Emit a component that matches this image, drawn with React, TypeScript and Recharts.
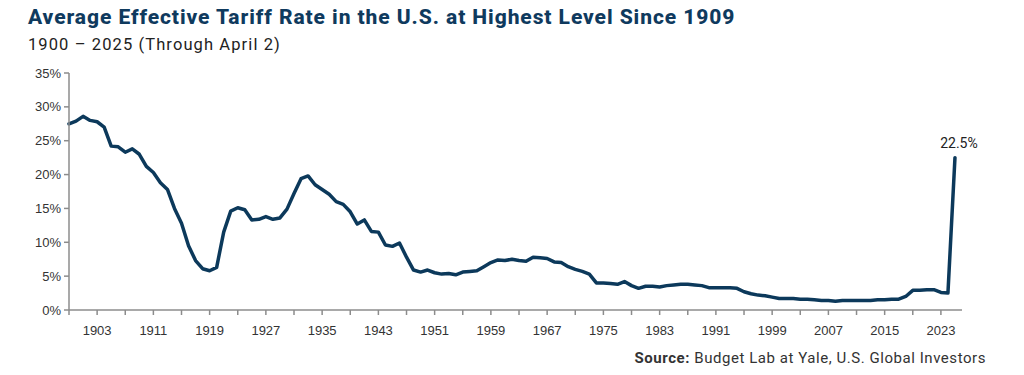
import { LineChart, Line, XAxis, YAxis, LabelList } from "recharts"

// annual average effective tariff rate (%), first year 1899
const START_YEAR = 1899
const tariffRate = [
  27.5, 27.9, 28.6, 28.0, 27.8, 27.0, 24.2, 24.1, 23.3, 23.8, // 1899-1908
  23.0, 21.2, 20.3, 18.8, 17.8, 15.0, 12.8, 9.5, 7.3, 6.1, // 1909-1918
  5.8, 6.3, 11.5, 14.6, 15.1, 14.8, 13.3, 13.4, 13.8, 13.4, // 1919-1928
  13.6, 14.9, 17.2, 19.4, 19.8, 18.5, 17.8, 17.1, 16.0, 15.6, // 1929-1938
  14.5, 12.7, 13.3, 11.6, 11.5, 9.6, 9.4, 9.9, 7.8, 5.9, // 1939-1948
  5.6, 5.9, 5.5, 5.3, 5.4, 5.2, 5.6, 5.7, 5.8, 6.4, // 1949-1958
  7.0, 7.4, 7.3, 7.5, 7.3, 7.2, 7.8, 7.7, 7.6, 7.1, // 1959-1968
  7.0, 6.4, 6.0, 5.7, 5.3, 4.0, 4.0, 3.9, 3.8, 4.2, // 1969-1978
  3.6, 3.2, 3.5, 3.5, 3.4, 3.6, 3.7, 3.8, 3.8, 3.7, // 1979-1988
  3.6, 3.3, 3.3, 3.3, 3.3, 3.2, 2.7, 2.4, 2.2, 2.1, // 1989-1998
  1.9, 1.7, 1.7, 1.7, 1.6, 1.6, 1.5, 1.4, 1.4, 1.3, // 1999-2008
  1.4, 1.4, 1.4, 1.4, 1.4, 1.5, 1.5, 1.6, 1.6, 2.0, // 2009-2018
  2.9, 2.9, 3.0, 3.0, 2.6, 2.5, 22.5, // 2019-2025
]
const years = tariffRate.map((_, i) => START_YEAR + i)

const xTicks = [
  1899, 1903, 1907, 1911, 1915, 1919, 1923, 1927, 1931, 1935, 1939, 1943, 1947,
  1951, 1955, 1959, 1963, 1967, 1971, 1975, 1979, 1983, 1987, 1991, 1995, 1999,
  2003, 2007, 2011, 2015, 2019, 2023,
]
const yTicks = [0, 5, 10, 15, 20, 25, 30, 35]

const NAVY = "#0c395b"
const AXIS = "#8c8c8c"
const TICK_FONT = "'Liberation Sans', Arial, sans-serif"

const data = years.map((year, i) => ({ year, rate: tariffRate[i] }))
const lastIndex = data.length - 1

// only the latest point gets a value label
function EndLabel(props: { x?: number; y?: number; index?: number; value?: number }) {
  const { x = 0, y = 0, index, value } = props
  if (index !== lastIndex) return null
  return (
    <text
      x={x + 4}
      y={y - 10}
      textAnchor="middle"
      fill="#222"
      fontSize={14}
      fontFamily="Roboto, sans-serif"
    >
      {`${value}%`}
    </text>
  )
}

export default function App() {
  return (
    <div
      style={{
        position: "absolute",
        left: 0,
        top: 0,
        width: 1024,
        height: 375,
        background: "#fff",
        overflow: "hidden",
      }}
    >
      <div
        style={{
          position: "absolute",
          left: 28,
          top: 5,
          fontFamily: "Roboto, sans-serif",
          fontWeight: 800,
          fontSize: 21,
          letterSpacing: 0.92,
          color: "#0f3a5e",
          whiteSpace: "nowrap",
        }}
      >
        Average Effective Tariff Rate in the U.S. at Highest Level Since 1909
      </div>
      <div
        style={{
          position: "absolute",
          left: 28,
          top: 35,
          fontFamily: "Roboto, sans-serif",
          fontSize: 16.5,
          letterSpacing: 1.1,
          color: "#222",
          whiteSpace: "nowrap",
        }}
      >
        1900 – 2025 (Through April 2)
      </div>

      <div style={{ position: "absolute", left: 0, top: 0 }}>
        <LineChart
          width={1024}
          height={375}
          data={data}
          margin={{ top: 73, right: 62, bottom: 35, left: 19 }}
        >
          <XAxis
            dataKey="year"
            type="number"
            domain={[1899, 2026]}
            ticks={xTicks}
            interval={0}
            tickFormatter={(v: number) => ((v - 1903) % 8 === 0 ? String(v) : "")}
            axisLine={{ stroke: AXIS, strokeWidth: 1.5 }}
            tickLine={{ stroke: AXIS, strokeWidth: 1.5 }}
            tickSize={5}
            tickMargin={11}
            height={30}
            tick={{ fill: "#333", fontSize: 13, fontFamily: TICK_FONT }}
          />
          <YAxis
            domain={[0, 35]}
            ticks={yTicks}
            interval={0}
            tickFormatter={(v: number) => `${v}%`}
            axisLine={{ stroke: AXIS, strokeWidth: 1.5 }}
            tickLine={{ stroke: AXIS, strokeWidth: 1.5 }}
            tickSize={5}
            tickMargin={3}
            width={50}
            tick={{ fill: "#333", fontSize: 13, fontFamily: TICK_FONT }}
          />
          <Line
            type="linear"
            dataKey="rate"
            stroke={NAVY}
            strokeWidth={3.5}
            strokeLinejoin="round"
            strokeLinecap="round"
            dot={false}
            isAnimationActive={false}
          >
            <LabelList dataKey="rate" content={EndLabel} />
          </Line>
        </LineChart>
      </div>

      <div
        style={{
          position: "absolute",
          right: 38,
          top: 349,
          fontFamily: "Roboto, sans-serif",
          fontSize: 15,
          letterSpacing: 0.55,
          color: "#333",
          whiteSpace: "nowrap",
        }}
      >
        <span style={{ fontWeight: 700 }}>Source:</span> Budget Lab at Yale, U.S. Global Investors
      </div>
    </div>
  )
}
